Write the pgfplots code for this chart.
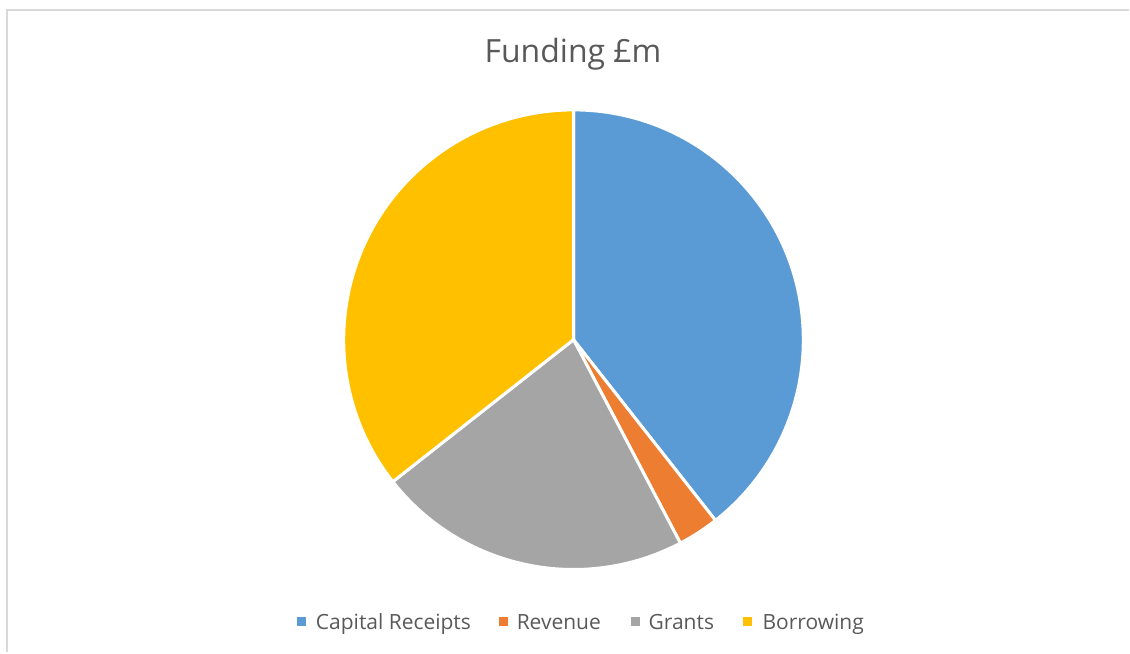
\documentclass[border=0pt]{standalone}
\usepackage{pgfplots}
\pgfplotsset{compat=1.18}
\usepackage{fontspec}
\setmainfont{Open Sans}
\definecolor{cCap}{HTML}{5B9BD5}
\definecolor{cRev}{HTML}{ED7D31}
\definecolor{cGra}{HTML}{A5A5A5}
\definecolor{cBor}{HTML}{FFC000}
\definecolor{cTxt}{HTML}{595959}
\definecolor{cFrame}{HTML}{D9D9D9}
% data (shares of funding, %)
\def\vCap{39.4}
\def\vRev{2.9}
\def\vGra{22.1}
\def\vBor{35.6}
\pgfmathsetmacro\tot{\vCap+\vRev+\vGra+\vBor}
\pgfmathsetmacro\aA{90}
\pgfmathsetmacro\aB{\aA-360*\vCap/\tot}
\pgfmathsetmacro\aC{\aB-360*\vRev/\tot}
\pgfmathsetmacro\aD{\aC-360*\vGra/\tot}
\pgfmathsetmacro\aE{\aD-360*\vBor/\tot}
\def\cx{574}
\def\cy{313}
\def\R{230}
\newcommand\pieslice[3]{%
  \fill[#1,draw=white,line width=3pt,line join=round] (axis cs:\cx,\cy) -- (axis cs:{\cx+\R*cos(#2)},{\cy+\R*sin(#2)}) arc[start angle=#2,end angle=#3,radius=\R] -- cycle;}
\begin{document}
\begin{tikzpicture}
\begin{axis}[x=1pt,y=1pt,xmin=0,xmax=1130,ymin=0,ymax=653,hide axis,clip=false,scale only axis]
\path (axis cs:0,0) rectangle (axis cs:1130,653);
\draw[cFrame,line width=2pt] (axis cs:7,0) -- (axis cs:7,643) -- (axis cs:1130,643);
\pieslice{cCap}{\aA}{\aB}
\pieslice{cRev}{\aB}{\aC}
\pieslice{cGra}{\aC}{\aD}
\pieslice{cBor}{\aD}{\aE}
\node[anchor=base,inner sep=0,text=cTxt,font=\fontsize{32}{38}\selectfont] at (axis cs:573.5,590) {Funding £m};
\fill[cCap] (axis cs:297,26.5) rectangle (axis cs:306,35.5);
\node[anchor=base west,inner sep=0,text=cTxt,font=\fontsize{21}{25}\selectfont] at (axis cs:316,23) {Capital Receipts};
\fill[cRev] (axis cs:499,26.5) rectangle (axis cs:508,35.5);
\node[anchor=base west,inner sep=0,text=cTxt,font=\fontsize{21}{25}\selectfont] at (axis cs:517,23) {Revenue};
\fill[cGra] (axis cs:632,26.5) rectangle (axis cs:641,35.5);
\node[anchor=base west,inner sep=0,text=cTxt,font=\fontsize{21}{25}\selectfont] at (axis cs:649,23) {Grants};
\fill[cBor] (axis cs:744,26.5) rectangle (axis cs:753,35.5);
\node[anchor=base west,inner sep=0,text=cTxt,font=\fontsize{21}{25}\selectfont] at (axis cs:763,23) {Borrowing};
\end{axis}
\end{tikzpicture}
\end{document}
